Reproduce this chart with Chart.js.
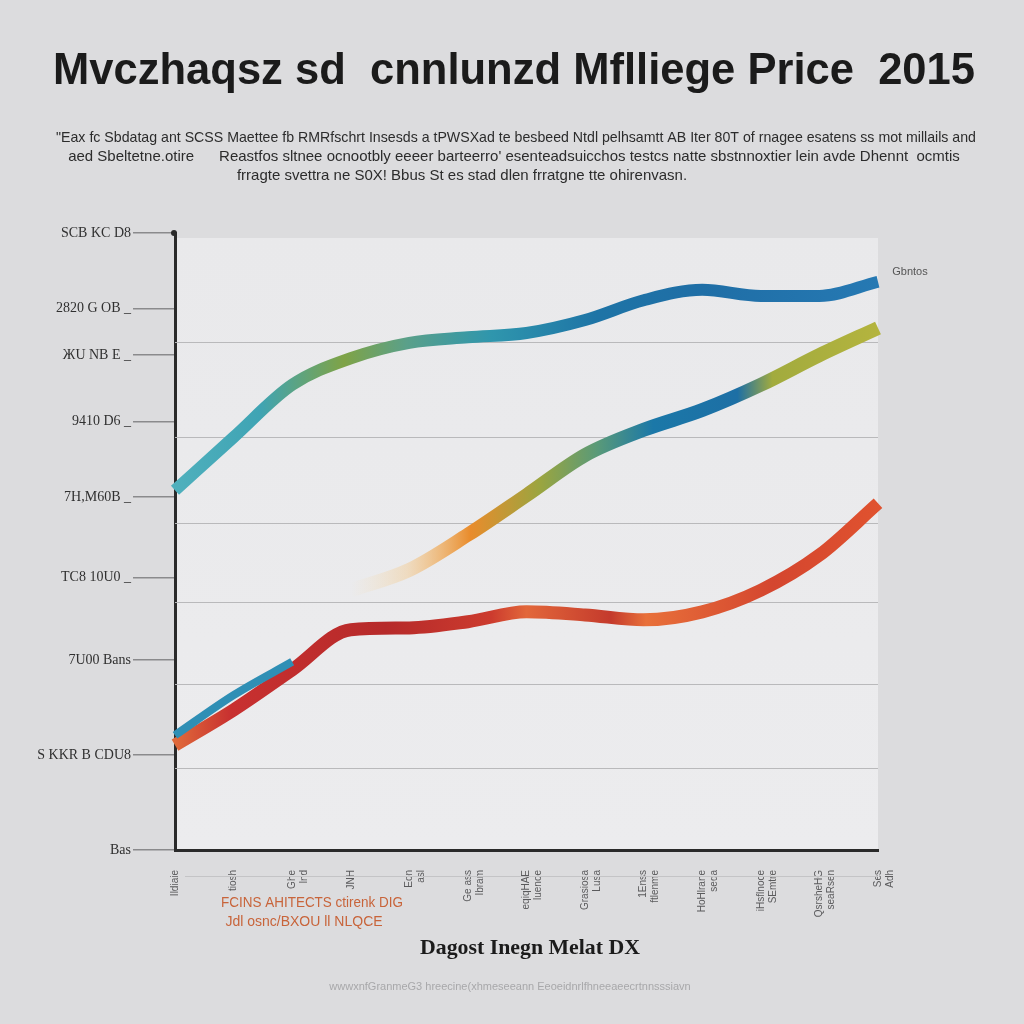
<!DOCTYPE html>
<html>
<head>
<meta charset="UTF-8">
<title>Mflliege Price 2015</title>
<style>
  body { margin: 0; background: #dcdcde; }
  canvas { display: block; }
</style>
</head>
<body>
<canvas id="myChart" width="1024" height="1024"></canvas>
<script src="https://cdn.jsdelivr.net/npm/chart.js@4.4.1/dist/chart.umd.min.js"></script>
<script>
// data (text is gibberish in the original, kept as is)
const xLabels = [
  ['Ildiaie'], ['tiosh'], ['Ghe', 'lnd'], ['JNH'], ['Eon', 'asl'],
  ['Ge ass', 'Ibram'], ['eqiqHAE', 'luenoe'], ['Grasiosa', 'Lusa'],
  ['1Enss', 'ftlenme'], ['HoHlrane', 'seda'], ['iHsflnoce', 'SEmtre'],
  ['QsrsheHG', 'seaRsen'], ['Ses', 'Adh']
];
const seriesTop = [58.3, 66.9, 75.4, 79.7, 82.2, 83.1, 83.8, 85.9, 89.1, 90.8, 89.8, 89.8, 92.1];
const seriesMid = [null, null, null, 42.1, 45.4, 51.1, 57.5, 64.0, 68.1, 71.3, 75.4, 80.2, 84.6];
const seriesLow = [17.0, 22.7, 29.2, 35.7, 36.0, 37.0, 38.6, 38.1, 37.3, 38.6, 42.1, 47.8, 56.2];
const seriesLowBlue = [18.6, 25.1, 30.5, null, null, null, null, null, null, null, null, null, null];
const yTickVals = [0, 15.4, 30.8, 44.2, 57.2, 69.4, 80.2, 87.8, 100];
const yTickLabels = ['Bas', 'S KKR B CDU8', '7U00 Bans', 'TC8 10U0 _', '7H,M60B _', '9410 D6 _', 'ЖU NB E _', '2820 G OB _', 'SCB KC D8'];
const gridVals = [13.3, 26.9, 40.2, 53.0, 66.9, 82.3];

const titleText = 'Mvczhaqsz sd  cnnlunzd Mflliege Price  2015';
const subtitleLines = [
  '"Eax fc Sbdatag ant SCSS Maettee fb RMRfschrt Insesds a tPWSXad te besbeed Ntdl pelhsamtt AB Iter 80T of rnagee esatens ss mot millails and',
  'aed Sbeltetne.otire      Reastfos sltnee ocnootbly eeeer barteerro\' esenteadsuicchos testcs natte sbstnnoxtier lein avde Dhennt  ocmtis',
  'frragte svettra ne S0X! Bbus St es stad dlen frratgne tte ohirenvasn.'
];
const noteLines = ['FCINS AHITECTS ctirenk DIG', 'Jdl osnc/BXOU ll NLQCE'];
const xTitle = 'Dagost Inegn Melat DX';
const footer = 'wwwxnfGranmeG3 hreecine(xhmeseeann Eeoeidnrlfhneeaeecrtnnsssiavn';
const seriesTag = 'Gbntos';

function gradient(stops, fallback) {
  return (c) => {
    const area = c.chart.chartArea;
    if (!area) return fallback;
    const g = c.chart.ctx.createLinearGradient(area.left, 0, area.right, 0);
    stops.forEach(s => g.addColorStop(s[0], s[1]));
    return g;
  };
}

const pagePlugin = {
  id: 'page',
  beforeDraw(chart) {
    const {ctx, chartArea: a} = chart;
    ctx.save();
    ctx.fillStyle = '#dcdcde';
    ctx.fillRect(0, 0, chart.width, chart.height);
    const bg = ctx.createLinearGradient(0, a.top, 0, a.bottom);
    bg.addColorStop(0, '#e9e9eb');
    bg.addColorStop(1, '#ececee');
    ctx.fillStyle = bg;
    ctx.fillRect(a.left, a.top + 5, a.right - a.left, a.bottom - a.top - 5);
    ctx.restore();
  },
  beforeDatasetsDraw(chart) {
    const {ctx, chartArea: a} = chart;
    const y = chart.scales.y;
    ctx.save();
    ctx.strokeStyle = '#b9b9bb';
    ctx.lineWidth = 1.2;
    gridVals.forEach(v => {
      const py = Math.round(y.getPixelForValue(v)) + 0.5;
      ctx.beginPath();
      ctx.moveTo(a.left, py);
      ctx.lineTo(a.right, py);
      ctx.stroke();
    });
    ctx.restore();
  },
  afterDraw(chart) {
    const {ctx, chartArea: a} = chart;
    ctx.save();
    ctx.textAlign = 'center';
    ctx.textBaseline = 'middle';
    ctx.fillStyle = '#1b1b1b';
    ctx.font = 'bold 44px "Liberation Sans", Arial, sans-serif';
    ctx.fillText(titleText, 514, 72, 922);

    ctx.fillStyle = '#2c2c2c';
    ctx.font = '15px "Liberation Sans", Arial, sans-serif';
    ctx.fillText(subtitleLines[0], 516, 138, 920);
    ctx.fillText(subtitleLines[1], 514, 157, 920);
    ctx.fillText(subtitleLines[2], 462, 176, 575);

    ctx.fillStyle = '#c8643a';
    ctx.font = '14px "Liberation Sans Narrow", "Liberation Sans", sans-serif';
    ctx.fillText(noteLines[0], 312, 903, 182);
    ctx.fillText(noteLines[1], 304, 922, 162);

    ctx.fillStyle = '#1b1b1b';
    ctx.font = 'bold 22px "Liberation Serif", serif';
    ctx.fillText(xTitle, 530, 948, 220);

    ctx.fillStyle = '#a8a8aa';
    ctx.font = '11px "Liberation Sans", sans-serif';
    ctx.fillText(footer, 510, 987, 402);

    // tag at the end of the top series
    const meta = chart.getDatasetMeta(0);
    const last = meta.data[meta.data.length - 1];
    ctx.fillStyle = '#555';
    ctx.font = '11px "Liberation Sans", sans-serif';
    ctx.fillText(seriesTag, last.x + 32, last.y - 10, 48);

    // axis top dot
    ctx.fillStyle = '#2a2a2a';
    ctx.beginPath();
    ctx.arc(a.left - 1, a.top, 3, 0, Math.PI * 2);
    ctx.fill();

    // faint guide line across the x labels
    ctx.strokeStyle = '#c4c4c6';
    ctx.lineWidth = 1;
    ctx.beginPath();
    ctx.moveTo(a.left + 10, 876.5);
    ctx.lineTo(a.right, 876.5);
    ctx.stroke();
    ctx.restore();
  }
};

const lineBase = {
  fill: false,
  pointRadius: 0,
  cubicInterpolationMode: 'monotone',
  borderCapStyle: 'butt',
  borderJoinStyle: 'round',
  spanGaps: false
};

const ctx = document.getElementById('myChart').getContext('2d');
const myChart = new Chart(ctx, {
  type: 'line',
  data: {
    labels: xLabels,
    datasets: [
      Object.assign({}, lineBase, {
        label: 'top',
        data: seriesTop,
        borderWidth: 12,
        borderColor: gradient([[0, '#4fb0bd'], [0.12, '#3fa4b4'], [0.24, '#7fa346'], [0.33, '#5aa08a'],
          [0.45, '#2f96ad'], [0.6, '#1e74a6'], [0.75, '#1f6ea6'], [1, '#2679b3']], '#2a80b0')
      }),
      Object.assign({}, lineBase, {
        label: 'mid',
        data: seriesMid,
        borderWidth: 14,
        borderColor: gradient([[0.25, 'rgba(250,215,150,0)'], [0.33, 'rgba(245,190,110,0.35)'],
          [0.42, '#e98c2c'], [0.52, '#9aa540'], [0.6, '#5a9a78'], [0.68, '#1b78a8'],
          [0.8, '#1d6fa5'], [0.85, '#a2ab3e'], [1, '#b4b43e']], '#80a050')
      }),
      Object.assign({}, lineBase, {
        label: 'lowBlue',
        data: seriesLowBlue,
        borderWidth: 8,
        borderColor: '#2f8fb5'
      }),
      Object.assign({}, lineBase, {
        label: 'low',
        data: seriesLow,
        borderWidth: 13,
        borderColor: gradient([[0, '#e06a3a'], [0.08, '#c83030'], [0.3, '#b62a2a'], [0.45, '#cc3b2e'],
          [0.5, '#e2673a'], [0.62, '#c43a2c'], [0.67, '#e8703a'], [0.85, '#d4462f'], [1, '#e0522f']], '#c83030')
      })
    ]
  },
  options: {
    responsive: false,
    animation: false,
    layout: { padding: { top: 233, right: 146, bottom: 0, left: 0 } },
    scales: {
      x: {
        offset: false,
        grid: { drawOnChartArea: false, drawTicks: false },
        border: { color: '#2a2a2a', width: 3 },
        ticks: {
          autoSkip: false,
          minRotation: 90,
          maxRotation: 90,
          padding: 20,
          color: '#5a5a5c',
          font: { size: 10, family: '"Liberation Sans Narrow", "Liberation Sans", sans-serif' }
        },
        afterFit(s) { s.height = 174; }
      },
      y: {
        min: 0,
        max: 100,
        afterBuildTicks(s) { s.ticks = yTickVals.map(v => ({ value: v })); },
        grid: { drawOnChartArea: false, tickLength: 42, color: '#8a8a8c', lineWidth: 1.5 },
        border: { color: '#2a2a2a', width: 3 },
        ticks: {
          padding: 2,
          color: '#303030',
          font: { size: 14, family: '"Liberation Serif", serif' },
          callback: (v, i) => yTickLabels[i]
        },
        afterFit(s) { s.width = 175; }
      }
    },
    plugins: {
      legend: { display: false },
      tooltip: { enabled: false }
    }
  },
  plugins: [pagePlugin]
});
</script>
</body>
</html>
